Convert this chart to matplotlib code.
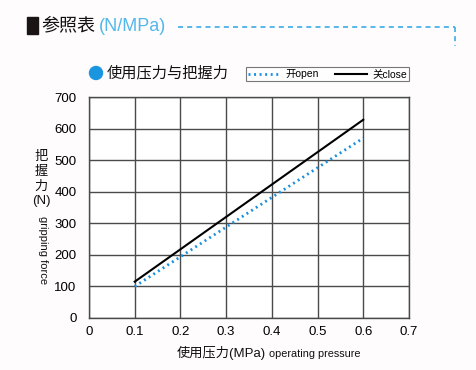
import matplotlib
matplotlib.use("Agg")
import matplotlib.pyplot as plt
from matplotlib.lines import Line2D
from matplotlib.patches import Rectangle, Ellipse

plt.rcParams['font.family'] = ['Liberation Sans', 'Noto Sans CJK SC', 'DejaVu Sans']

pressure = [0.1, 0.6]
force_open = [100, 570]
force_close = [115, 628]
xticks = [0, 0.1, 0.2, 0.3, 0.4, 0.5, 0.6, 0.7]
xtick_labels = ['0', '0.1', '0.2', '0.3', '0.4', '0.5', '0.6', '0.7']
yticks = [0, 100, 200, 300, 400, 500, 600, 700]

W, H = 476, 370
fig = plt.figure(figsize=(W / 100, H / 100), dpi=100)
fig.patch.set_facecolor('#fefcfd')

def fx(px):
    return px / W

def fy(py):
    return 1 - py / H

ax = fig.add_axes([fx(89), fy(318), fx(409) - fx(89), fy(97) - fy(318)])
ax.set_facecolor('white')
ax.plot(pressure, force_open, color='#1a8fe0', lw=2.0, linestyle=(0, (0.7, 1.3)),
        label='开open', solid_capstyle='butt', dash_capstyle='butt')
ax.plot(pressure, force_close, color='black', lw=1.5, label='关close')
ax.set_xlim(0, 0.7)
ax.set_ylim(0, 700)
ax.set_xticks(xticks)
ax.set_xticklabels(xtick_labels)
ax.set_yticks(yticks)
ax.grid(True, color='#4a4a4a', lw=1.0)
ax.set_axisbelow(True)
for s in ax.spines.values():
    s.set_color('#4a4a4a')
    s.set_linewidth(1.0)
ax.tick_params(axis='x', length=0, labelsize=9.5, colors='black', pad=6)
ax.tick_params(axis='y', length=0, labelsize=9.5, colors='black', pad=9)

leg = ax.legend(ncol=2, loc='center', bbox_to_anchor=(fx(327.5), fy(74)),
                bbox_transform=fig.transFigure, fontsize=7.5, frameon=True,
                fancybox=False, edgecolor='#555555', handlelength=3.1,
                handleheight=0.5, columnspacing=1.5, handletextpad=0.5,
                borderpad=0.2, borderaxespad=0)
leg.get_frame().set_linewidth(0.8)

# header
fig.add_artist(Rectangle((fx(27), fy(34)), fx(38) - fx(27), fy(17) - fy(34),
                         transform=fig.transFigure, color='#1a1414'))
fig.text(fx(41), fy(26), '参照表', fontsize=13, va='center', ha='left', color='#111111')
fig.text(fx(99), fy(26.5), '(N/MPa)', fontsize=13, va='center', ha='left', color='#52b8ea')
fig.add_artist(Line2D([fx(178), fx(455)], [fy(27), fy(27)], transform=fig.transFigure,
                      color='#3aabe8', lw=1.2, linestyle=(0, (3, 2.5))))
fig.add_artist(Line2D([fx(455), fx(455)], [fy(27), fy(46)], transform=fig.transFigure,
                      color='#3aabe8', lw=1.2, linestyle=(0, (3, 2.5))))

# subtitle
fig.add_artist(Ellipse((fx(96), fy(73)), 13 / W, 13 / H, transform=fig.transFigure,
                       color='#1a96e0'))
fig.text(fx(107), fy(73), '使用压力与把握力', fontsize=11, va='center', ha='left', color='#111111')

# y label
fig.text(fx(41), fy(179), '把\n握\n力\n(N)', fontsize=9.5, va='center', ha='center',
         linespacing=1.3, color='#111111')
fig.text(fx(43), fy(250), 'gripping force', fontsize=8, va='center', ha='center',
         rotation=270, color='#111111')

# x label
fig.text(fx(177), fy(353), '使用压力(MPa)', fontsize=9.5, va='center', ha='left', color='#111111')
fig.text(fx(269), fy(354), 'operating pressure', fontsize=7.8, va='center', ha='left', color='#111111')

fig.savefig('out.png', dpi=100, facecolor=fig.get_facecolor())
